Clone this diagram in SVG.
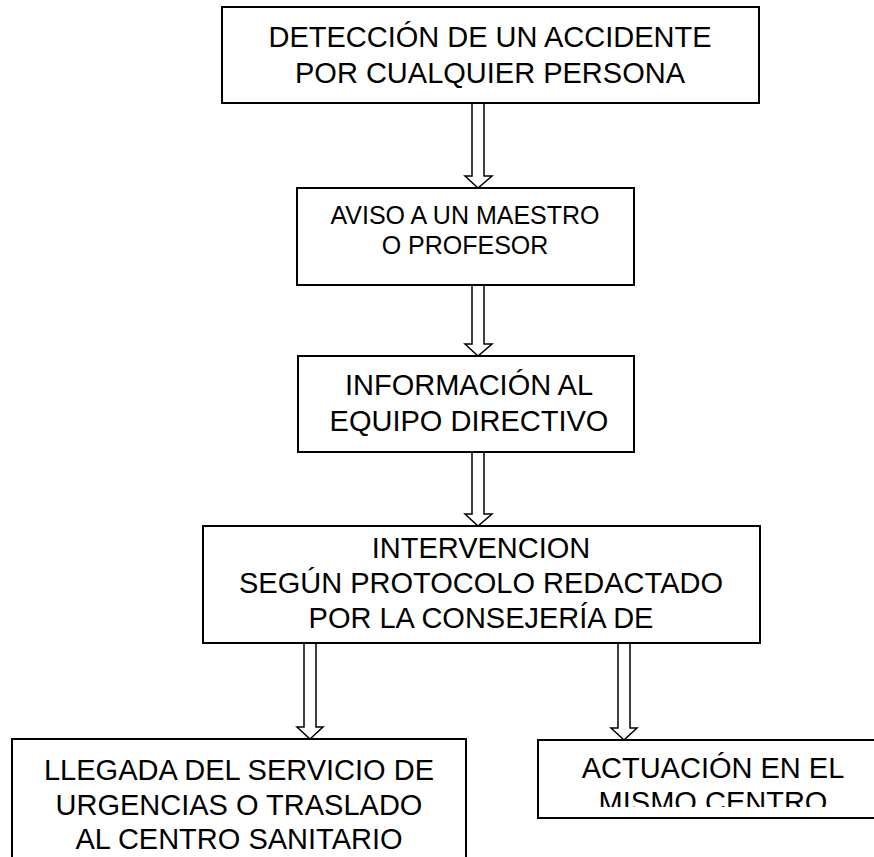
<svg xmlns="http://www.w3.org/2000/svg" width="874" height="857" viewBox="0 0 874 857">
<style>
.box{fill:#fff;stroke:#000;stroke-width:2}
.arr{fill:#fff;stroke:#000;stroke-width:1.5;stroke-linejoin:miter}
.t{font-family:"Liberation Sans",Arial,sans-serif;font-size:29px;fill:#000;text-anchor:middle}
.s{font-size:25px}
</style>
<defs>
<clipPath id="c6"><rect x="538" y="740" width="340" height="67"/></clipPath>
</defs>
<rect width="874" height="857" fill="#fff"/>
<g id="connectors">
<polygon class="arr" points="472,103 484,103 484,176 492,176 478,188 465,176 472,176"/>
<polygon class="arr" points="472,285 484,285 484,344 492,344 478,356 465,344 472,344"/>
<polygon class="arr" points="472,452 484,452 484,514 492,514 478,526 465,514 472,514"/>
<polygon class="arr" points="304,643 316,643 316,727 323,727 310,739 297,727 304,727"/>
<polygon class="arr" points="618,643 630,643 630,728 637,728 624,740 611,728 618,728"/>
</g>
<g id="n1">
<rect class="box" x="222" y="7" width="537" height="96"/>
<text class="t" x="490" y="47">DETECCIÓN DE UN ACCIDENTE</text>
<text class="t" x="490" y="83">POR CUALQUIER PERSONA</text>
</g>
<g id="n2">
<rect class="box" x="297" y="188" width="337" height="97"/>
<text class="t s" x="465" y="224">AVISO A UN MAESTRO</text>
<text class="t s" x="465" y="254">O PROFESOR</text>
</g>
<g id="n3">
<rect class="box" x="298" y="356" width="336" height="96"/>
<text class="t" x="469" y="395">INFORMACIÓN AL</text>
<text class="t" x="469" y="431">EQUIPO DIRECTIVO</text>
</g>
<g id="n4">
<rect class="box" x="203" y="526" width="557" height="117"/>
<text class="t" x="481" y="558">INTERVENCION</text>
<text class="t" x="481" y="593">SEGÚN PROTOCOLO REDACTADO</text>
<text class="t" x="481" y="628">POR LA CONSEJERÍA DE</text>
</g>
<g id="n5">
<rect class="box" x="12" y="739" width="454" height="140"/>
<text class="t" x="239" y="780">LLEGADA DEL SERVICIO DE</text>
<text class="t" x="239" y="815">URGENCIAS O TRASLADO</text>
<text class="t" x="239" y="849">AL CENTRO SANITARIO</text>
</g>
<g id="n6">
<rect class="box" x="538" y="740" width="360" height="78"/>
<g clip-path="url(#c6)">
<text class="t" x="713" y="778">ACTUACIÓN EN EL</text>
<text class="t" x="713" y="812">MISMO CENTRO</text>
</g>
</g>
</svg>
